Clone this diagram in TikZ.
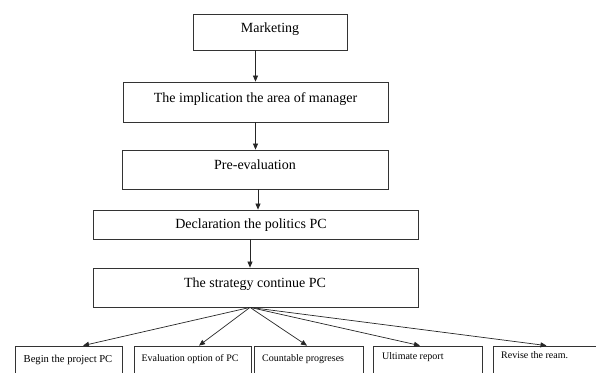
\documentclass[tikz,border=0pt]{standalone}
\usepackage{fontspec}
\setmainfont{Liberation Serif}
\usetikzlibrary{arrows.meta}

\begin{document}
\begin{tikzpicture}[x=1pt,y=-1pt,
  box/.style={draw=black!80,line width=0.8pt,rectangle,inner sep=0pt},
  bigtext/.style={font=\fontsize{14}{16}\selectfont,inner sep=0pt,anchor=base},
  smalltext/.style={font=\fontsize{10}{12}\selectfont,inner sep=0pt,anchor=base},
  flow/.style={draw=black!85,line width=0.7pt,-{Triangle[length=6pt,width=5pt]}}]
  \useasboundingbox (0,0) rectangle (596,372);

  % main chain of boxes
  \node[box,minimum width=154pt,minimum height=36pt] (mk)  at (270,32) {};
  \node[box,minimum width=265pt,minimum height=40pt] (imp) at (255.5,102) {};
  \node[box,minimum width=266pt,minimum height=39pt] (pre) at (255,169.5) {};
  \node[box,minimum width=325pt,minimum height=29pt] (dec) at (255.5,224.5) {};
  \node[box,minimum width=325pt,minimum height=39pt] (str) at (255.5,287.5) {};

  \node[bigtext] (tmk)  at (270,32)   {Marketing};
  \node[bigtext] (timp) at (255.5,102) {The implication the area of manager};
  \node[bigtext] (tpre) at (255,169)  {Pre-evaluation};
  \node[bigtext] (tdec) at (251,228)  {Declaration the politics PC};
  \node[bigtext] (tstr) at (255,287)  {The strategy continue PC};

  % bottom row of boxes
  \node[box,minimum width=107pt,minimum height=34pt] (ba) at (68.5,363) {};
  \node[box,minimum width=117pt,minimum height=34pt] (bb) at (192.5,363) {};
  \node[box,minimum width=109pt,minimum height=34pt] (bc) at (308.5,363) {};
  \node[box,minimum width=109pt,minimum height=34pt] (bd) at (427.5,363) {};
  \node[box,minimum width=107pt,minimum height=34pt] (be) at (546.5,363) {};

  \node[smalltext,font=\fontsize{10.6}{12}\selectfont] (tba) at (68,362) {Begin the project PC};
  \node[smalltext] (tbb) at (190,361) {Evaluation option of PC};
  \node[smalltext,anchor=base west] (tbc) at (262,361) {Countable progreses};
  \node[smalltext,anchor=base west] (tbd) at (382,359) {Ultimate report};
  \node[smalltext,anchor=base west] (tbe) at (501,358) {Revise the ream.};

  % vertical connectors
  \draw[flow] (imp.north |- mk.south) -- (imp.north);
  \draw[flow] (imp.south) -- (imp.south |- pre.north);
  \draw[flow] ([xshift=3pt]pre.south) -- ([xshift=3pt]pre.south |- dec.north);
  \draw[flow] ([xshift=-5.5pt]dec.south) -- ([xshift=-5.5pt]dec.south |- str.north);

  % fan-out to the bottom row
  \coordinate (fan) at ([xshift=-5.5pt]str.south);
  \draw[flow] (fan) -- ([xshift=14.5pt]ba.north);
  \draw[flow] (fan) -- ([xshift=6.5pt]bb.north);
  \draw[flow] (fan) -- ([xshift=-1.5pt]bc.north);
  \draw[flow] (fan) -- ([xshift=-7.5pt]bd.north);
  \draw[flow] (fan) -- (be.north);
\end{tikzpicture}
\end{document}
